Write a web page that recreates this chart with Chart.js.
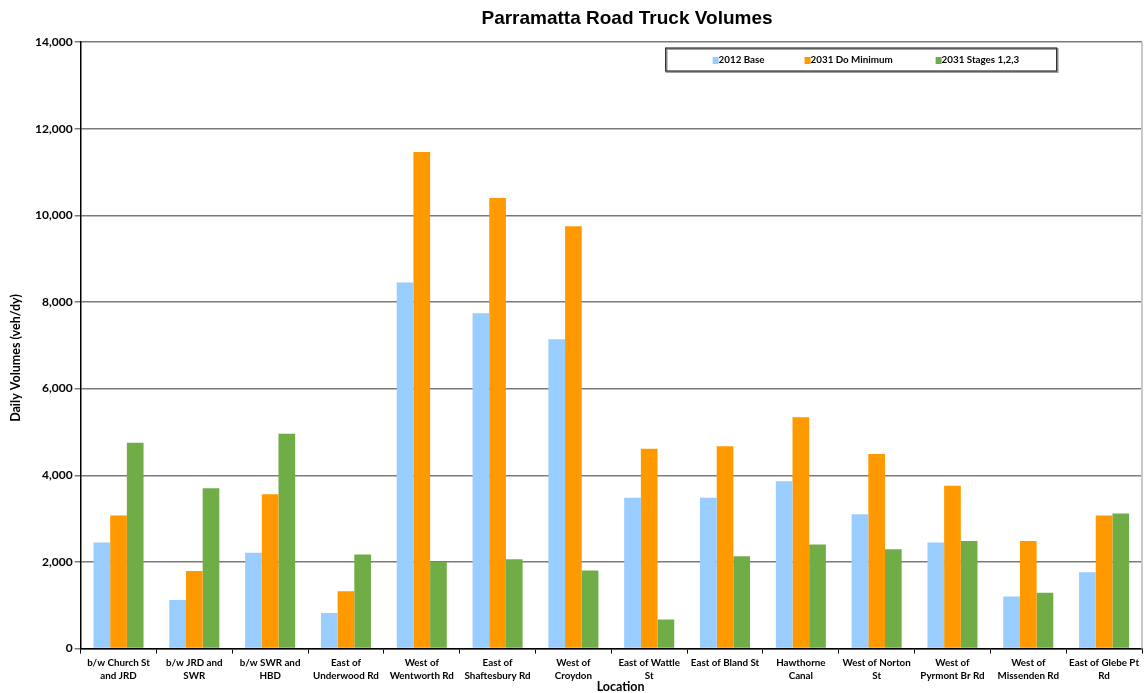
<!DOCTYPE html>
<html>
<head>
<meta charset="utf-8">
<title>Parramatta Road Truck Volumes</title>
<script src="https://cdn.jsdelivr.net/npm/chart.js@4.4.1/dist/chart.umd.min.js"></script>
<style>
  html, body { margin: 0; padding: 0; background: #fff; }
  #wrap { width: 1146px; height: 693px; position: relative; }
</style>
</head>
<body>
<div id="wrap"><canvas id="truckChart"></canvas></div>
<script>
// Data
const locations = [
    ['b/w Church St', 'and JRD'],
    ['b/w JRD and', 'SWR'],
    ['b/w SWR and', 'HBD'],
    ['East of', 'Underwood Rd'],
    ['West of', 'Wentworth Rd'],
    ['East of', 'Shaftesbury Rd'],
    ['West of', 'Croydon'],
    ['East of Wattle', 'St'],
    ['East of Bland St'],
    ['Hawthorne', 'Canal'],
    ['West of Norton', 'St'],
    ['West of', 'Pyrmont Br Rd'],
    ['West of', 'Missenden Rd'],
    ['East of Glebe Pt', 'Rd']
];
const base2012 = [2450, 1120, 2210, 820, 8450, 7740, 7140, 3480, 3480, 3860, 3100, 2450, 1200, 1760];
const doMinimum2031 = [3070, 1790, 3560, 1320, 11460, 10400, 9750, 4610, 4670, 5340, 4490, 3760, 2480, 3070];
const stages2031 = [4750, 3700, 4960, 2170, 2000, 2060, 1800, 670, 2130, 2400, 2290, 2480, 1290, 3120];
const seriesNames = ['2012 Base', '2031 Do Minimum', '2031 Stages 1,2,3'];
const seriesColors = ['#99CCFF', '#FF9900', '#70AD47'];
const yTicks = [0, 2000, 4000, 6000, 8000, 10000, 12000, 14000];

const labelFont = 'Lato, "Open Sans", sans-serif';

// Chart title and the two axis titles, placed where the original has them
const titlesPlugin = {
    id: 'titlesPlugin',
    afterDraw(chart) {
        const ctx = chart.ctx;
        const a = chart.chartArea;
        ctx.save();
        ctx.fillStyle = '#000';
        ctx.textAlign = 'center';
        ctx.textBaseline = 'middle';
        ctx.font = 'bold 19px "Liberation Sans", Arial, sans-serif';
        ctx.fillText('Parramatta Road Truck Volumes', 627, 19);

        ctx.font = 'bold 12.5px ' + labelFont;
        ctx.fillText('Location', a.left + 540, 687);

        ctx.translate(16, a.top + 316);
        ctx.rotate(-Math.PI / 2);
        ctx.fillText('Daily Volumes (veh/dy)', 0, 0);
        ctx.restore();
    }
};

// light frame line on the right of the plot
const rightEdge = {
    id: 'rightEdge',
    beforeDatasetsDraw(chart) {
        const ctx = chart.ctx;
        const a = chart.chartArea;
        ctx.save();
        ctx.strokeStyle = '#c8c8c8';
        ctx.lineWidth = 2;
        ctx.beginPath();
        ctx.moveTo(a.right, a.top);
        ctx.lineTo(a.right, a.bottom);
        ctx.stroke();
        ctx.restore();
    }
};

// Boxed legend sitting inside the plot area, top right
const boxLegend = {
    id: 'boxLegend',
    afterDraw(chart) {
        const ctx = chart.ctx;
        const area = chart.chartArea;
        const x = area.left + 585, y = area.top + 6, w = 391, h = 23;
        ctx.save();
        ctx.fillStyle = '#fff';
        ctx.fillRect(x, y, w, h);
        ctx.strokeStyle = '#a0a0a0';
        ctx.lineWidth = 2;
        ctx.strokeRect(x + 1, y + 1, w, h);
        ctx.strokeStyle = '#333';
        ctx.lineWidth = 1.2;
        ctx.strokeRect(x, y, w, h);
        ctx.font = 'bold 9.8px ' + labelFont;
        ctx.textBaseline = 'middle';
        ctx.textAlign = 'left';
        const offsets = [47, 139, 270];
        chart.data.datasets.forEach((ds, i) => {
            const sx = x + offsets[i];
            ctx.fillStyle = ds.backgroundColor;
            ctx.fillRect(sx, y + 9, 6, 7);
            ctx.fillStyle = '#000';
            ctx.fillText(ds.label, sx + 6, y + 11.5);
        });
        ctx.restore();
    }
};

const ctx = document.getElementById('truckChart').getContext('2d');
const truckChart = new Chart(ctx, {
    type: 'bar',
    data: {
        labels: locations,
        datasets: [
            { label: seriesNames[0], data: base2012, backgroundColor: seriesColors[0] },
            { label: seriesNames[1], data: doMinimum2031, backgroundColor: seriesColors[1] },
            { label: seriesNames[2], data: stages2031, backgroundColor: seriesColors[2] }
        ]
    },
    options: {
        responsive: true,
        maintainAspectRatio: false,
        animation: false,
        devicePixelRatio: 1,
        layout: {
            padding: { top: 42, right: 4, left: 33, bottom: 8 }
        },
        datasets: {
            bar: {
                categoryPercentage: 0.66,
                barPercentage: 1.0,
                borderWidth: 0
            }
        },
        scales: {
            x: {
                grid: {
                    display: true,
                    offset: true,
                    drawOnChartArea: false,
                    drawTicks: true,
                    tickLength: 5,
                    color: '#000'
                },
                border: { color: '#000', width: 1.5 },
                ticks: {
                    autoSkip: false,
                    maxRotation: 0,
                    minRotation: 0,
                    color: '#000',
                    padding: 2,
                    font: { family: labelFont, size: 9.8, weight: 'bold', lineHeight: 1.4 }
                }
            },
            y: {
                min: 0,
                max: 14000,
                afterBuildTicks(axis) {
                    axis.ticks = yTicks.map(v => ({ value: v }));
                },
                grid: {
                    color: '#7a7a7a',
                    lineWidth: 1.5,
                    drawTicks: true,
                    tickLength: 6
                },
                border: { color: '#000', width: 1.5 },
                ticks: {
                    color: '#000',
                    padding: 2,
                    font: { family: labelFont, size: 12, weight: 'bold' },
                    callback: value => value.toLocaleString('en-US')
                }
            }
        },
        plugins: {
            legend: { display: false },
            title: { display: false },
            tooltip: { mode: 'index', intersect: false }
        }
    },
    plugins: [titlesPlugin, rightEdge, boxLegend]
});
</script>
</body>
</html>
